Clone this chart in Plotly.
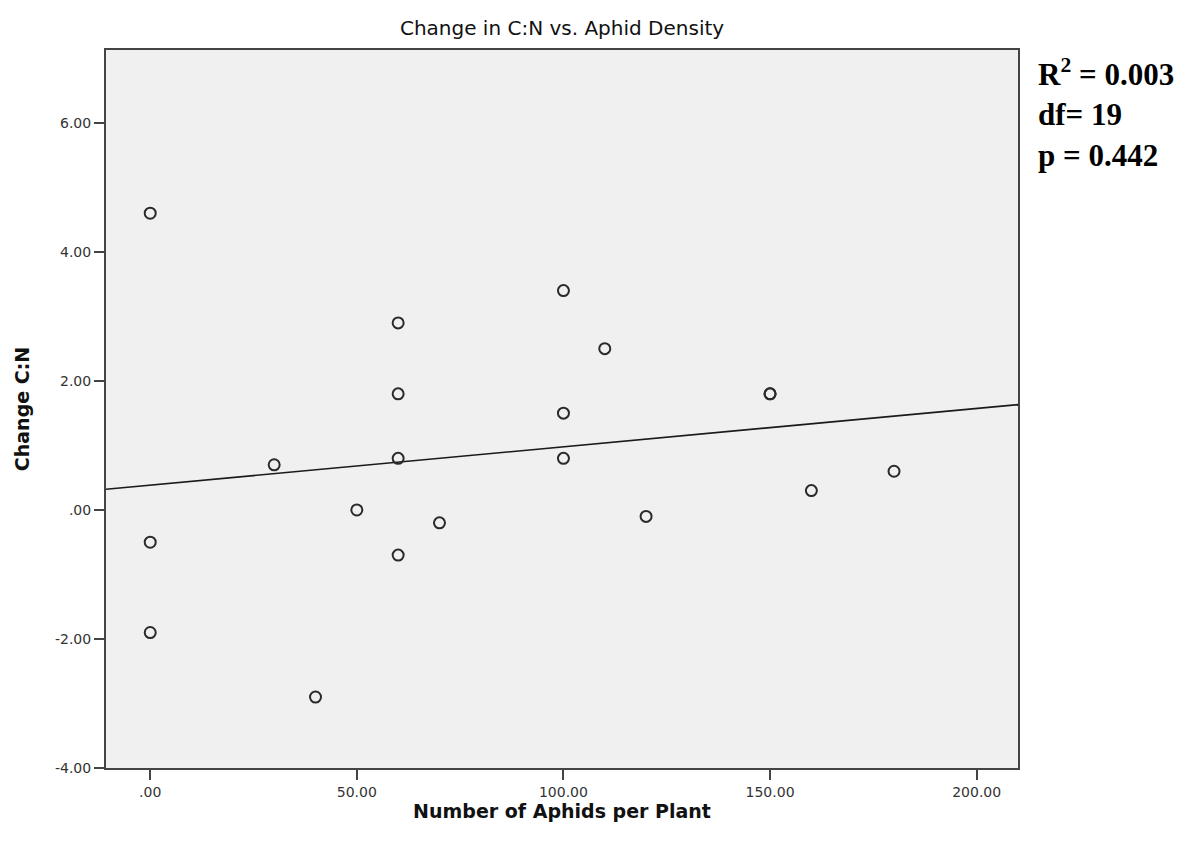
import numpy as np
import plotly.graph_objects as go

aphids = [0, 0, 0, 30, 40, 50, 60, 60, 60, 60, 70, 100, 100, 100, 110, 120, 150, 150, 160, 180]
change_cn = [4.6, -0.5, -1.9, 0.7, -2.9, 0.0, 2.9, 1.8, 0.8, -0.7, -0.2, 3.4, 1.5, 0.8, 2.5, -0.1, 1.8, 1.8, 0.3, 0.6]

x_range = [-10.7, 210]
y_range = [-4, 7.13]
x_ticks = [0, 50, 100, 150, 200]
x_tick_labels = [".00", "50.00", "100.00", "150.00", "200.00"]
y_ticks = [-4, -2, 0, 2, 4, 6]
y_tick_labels = ["-4.00", "-2.00", ".00", "2.00", "4.00", "6.00"]

slope, intercept = np.polyfit(aphids, change_cn, 1)
fit_x = np.array(x_range)
fit_y = intercept + slope * fit_x

fig = go.Figure()
fig.add_trace(go.Scatter(
    x=fit_x, y=fit_y, mode="lines",
    line=dict(color="#1a1a1a", width=1.6), showlegend=False, hoverinfo="skip"))
fig.add_trace(go.Scatter(
    x=aphids, y=change_cn, mode="markers",
    marker=dict(symbol="circle-open", size=11, color="#2a2a2a", line=dict(width=2)),
    showlegend=False))

fig.update_layout(
    width=1187, height=848,
    margin=dict(l=106, r=169, t=50, b=80),
    paper_bgcolor="white", plot_bgcolor="#f0f0f0",
    title=dict(text="Change in C:N vs. Aphid Density", x=0.4735, xanchor="center",
               y=0.967, yanchor="middle",
               font=dict(family="DejaVu Sans", size=20, color="#111")),
    font=dict(family="DejaVu Sans", color="#222"),
)
fig.update_xaxes(
    range=x_range, tickvals=x_ticks, ticktext=x_tick_labels,
    showgrid=False, zeroline=False, showline=True, linecolor="#444", linewidth=2,
    mirror=True, ticks="outside", ticklen=10, tickwidth=2, tickcolor="#444",
    tickfont=dict(size=14, color="#333"),
    title=dict(text="<b>Number of Aphids per Plant</b>", font=dict(size=19, color="#111"), standoff=3),
)
fig.update_yaxes(
    range=y_range, tickvals=y_ticks, ticktext=y_tick_labels,
    showgrid=False, zeroline=False, showline=True, linecolor="#444", linewidth=2,
    mirror=True, ticks="outside", ticklen=10, tickwidth=2, tickcolor="#444",
    tickfont=dict(size=14, color="#333"),
    title=dict(text="<b>Change C:N</b>", font=dict(size=19, color="#111"), standoff=20),
)

fig.add_annotation(
    xref="paper", yref="paper", x=1.02, y=0.999, xanchor="left", yanchor="top",
    text="<b>R<sup>2</sup> = 0.003<br>df= 19<br>p = 0.442</b>",
    showarrow=False, align="left",
    font=dict(family="Liberation Serif", size=31, color="black"),
)

fig.write_html("out.html")
